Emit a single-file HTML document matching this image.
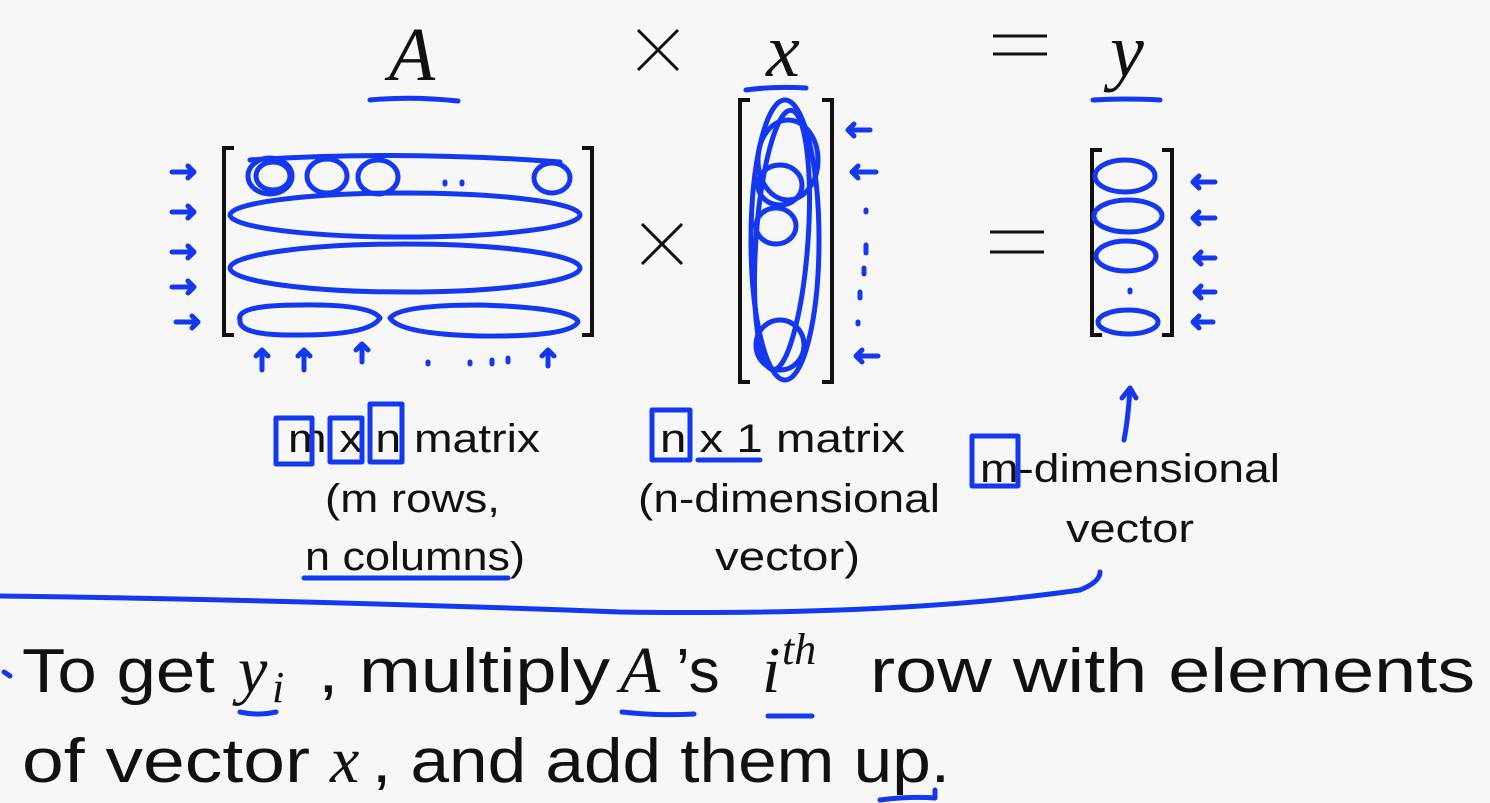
<!DOCTYPE html>
<html><head><meta charset="utf-8"><style>
html,body{margin:0;padding:0;background:#f7f7f7;}
svg{display:block;}
.t{font-family:"Liberation Sans",sans-serif;fill:#111;}
.m{font-family:"Liberation Serif",serif;font-style:italic;fill:#111;}
.o{font-family:"DejaVu Sans",sans-serif;fill:#111;font-weight:200;}
.b{fill:none;stroke:#1437f0;stroke-width:5;stroke-linecap:round;stroke-linejoin:round;}
.k{fill:none;stroke:#111;stroke-width:4;}
</style></head><body>
<svg width="1490" height="803" viewBox="0 0 1490 803">
<rect width="1490" height="803" fill="#f7f7f7"/>
<text class="m" x="412" y="80" font-size="76" text-anchor="middle">A</text>
<path d="M638 30 L678 70 M678 30 L638 70" stroke="#111" stroke-width="3"/>
<text class="m" x="783" y="76" font-size="76" text-anchor="middle">x</text>
<path d="M993 36 H1047 M993 54 H1047" stroke="#111" stroke-width="3"/>
<text class="m" x="1127" y="76" font-size="76" text-anchor="middle">y</text>
<path class="b" d="M370 100 Q412 96 458 101"/>
<path class="b" d="M746 90 Q775 86 806 88"/>
<path class="b" d="M1093 100 Q1125 98 1160 100"/>
<path class="k" d="M234 148 H224 V335 H234 M582 148 H592 V335 H582"/>
<path class="k" d="M750 100 H740 V382 H750 M822 100 H832 V382 H822"/>
<path class="k" d="M1102 150 H1092 V335 H1102 M1162 150 H1172 V335 H1162"/>
<path d="M642 224 L682 264 M682 224 L642 264" stroke="#111" stroke-width="3"/>
<path d="M990 232 H1044 M990 252 H1044" stroke="#111" stroke-width="3"/>
<g>
<ellipse class="b" cx="270" cy="176" rx="22" ry="18"/><ellipse class="b" cx="273" cy="176" rx="17" ry="14"/>
<ellipse class="b" cx="327" cy="176" rx="20" ry="17"/><ellipse class="b" cx="378" cy="177" rx="20" ry="17"/>
<ellipse class="b" cx="552" cy="178" rx="18" ry="15"/>
<path class="b" d="M445 182 v2 M462 182 v2 M250 160 Q400 150 560 162"/>
<ellipse class="b" cx="405" cy="215" rx="175" ry="22"/>
<ellipse class="b" cx="405" cy="268" rx="175" ry="24"/>
<path class="b" d="M240 320 Q235 305 300 305 Q370 304 380 318 Q370 335 300 335 Q238 336 240 320 M390 318 Q400 305 480 305 Q575 308 578 322 Q570 337 480 336 Q400 334 390 318"/>
<path class="b" d="M172 172 h22 m-6 -6 l6 6 l-6 6 M172 212 h22 m-6 -6 l6 6 l-6 6 M172 252 h22 m-6 -6 l6 6 l-6 6 M172 287 h22 m-6 -6 l6 6 l-6 6 M176 322 h22 m-6 -6 l6 6 l-6 6"/>
<path class="b" d="M262 370 v-20 m-6 6 l6 -6 l6 6 M304 370 v-20 m-6 6 l6 -6 l6 6 M362 362 v-18 m-6 6 l6 -6 l6 6 M548 366 v-16 m-6 6 l6 -6 l6 6 M428 362 v2 M470 362 v2 M492 360 v4 M508 358 v4"/>
</g>
<g>
<ellipse class="b" cx="785" cy="240" rx="34" ry="140"/>
<ellipse class="b" cx="782" cy="240" rx="26" ry="130" transform="rotate(4 782 240)"/>
<ellipse class="b" cx="788" cy="160" rx="30" ry="40"/><ellipse class="b" cx="780" cy="185" rx="22" ry="20"/>
<ellipse class="b" cx="776" cy="226" rx="20" ry="18"/><ellipse class="b" cx="780" cy="345" rx="24" ry="25"/>
<path class="b" d="M870 130 h-22 m6 -6 l-6 6 l6 6 M876 172 h-24 m6 -6 l-6 6 l6 6 M878 356 h-22 m6 -6 l-6 6 l6 6 M866 210 v2 M866 245 v8 M864 268 v6 M860 292 v6 M858 322 v2"/>
</g>
<g>
<ellipse class="b" cx="1125" cy="176" rx="30" ry="16"/><ellipse class="b" cx="1128" cy="216" rx="34" ry="16"/>
<ellipse class="b" cx="1126" cy="256" rx="30" ry="15"/><ellipse class="b" cx="1128" cy="322" rx="30" ry="12"/>
<path class="b" d="M1130 290 v2 M1215 182 h-22 m6 -6 l-6 6 l6 6 M1215 218 h-22 m6 -6 l-6 6 l6 6 M1215 258 h-20 m6 -6 l-6 6 l6 6 M1215 292 h-20 m6 -6 l-6 6 l6 6 M1213 322 h-20 m6 -6 l-6 6 l6 6"/>
<path class="b" d="M1124 440 Q1128 420 1130 388 m-8 10 l8 -10 l6 10"/>
</g>
<g class="t" font-size="40">
<text x="288" y="452" textLength="252" lengthAdjust="spacingAndGlyphs">m x n matrix</text>
<text x="325" y="512" textLength="175" lengthAdjust="spacingAndGlyphs">(m rows,</text>
<text x="305" y="570" textLength="220" lengthAdjust="spacingAndGlyphs">n columns)</text>
<text x="660" y="452" textLength="245" lengthAdjust="spacingAndGlyphs">n x 1 matrix</text>
<text x="638" y="512" textLength="302" lengthAdjust="spacingAndGlyphs">(n-dimensional</text>
<text x="715" y="570" textLength="145" lengthAdjust="spacingAndGlyphs">vector)</text>
<text x="980" y="482" textLength="300" lengthAdjust="spacingAndGlyphs">m-dimensional</text>
<text x="1066" y="542" textLength="128" lengthAdjust="spacingAndGlyphs">vector</text>
</g>
<g>
<path class="b" d="M276 418 h36 v46 h-36 z M330 418 h32 v44 h-32 z M370 404 h32 v58 h-32 z M652 410 h38 v50 h-38 z M698 460 h62 M972 436 h46 v50 h-46 z M304 578 h204"/>
<path class="b" d="M0 596 Q300 600 620 612 Q900 616 1080 590 Q1100 582 1100 572"/>
</g>
<g>
<path class="b" d="M4 672 l6 4" />
<text class="t" x="22" y="692" font-size="62" textLength="193" lengthAdjust="spacingAndGlyphs">To get</text>
<text class="m" x="238" y="692" font-size="66">y</text><text class="m" x="272" y="702" font-size="44">i</text>
<text class="t" x="318" y="692" font-size="62" textLength="292" lengthAdjust="spacingAndGlyphs">, multiply</text>
<text class="m" x="620" y="692" font-size="66">A</text>
<text class="t" x="676" y="692" font-size="62">’s</text>
<text class="m" x="762" y="692" font-size="66">i</text>
<text class="m" x="782" y="664" font-size="44">th</text>
<text class="t" x="870" y="692" font-size="62" textLength="605" lengthAdjust="spacingAndGlyphs">row with elements</text>
<text class="t" x="22" y="782" font-size="62" textLength="288" lengthAdjust="spacingAndGlyphs">of vector</text>
<text class="m" x="330" y="782" font-size="66">x</text>
<text class="t" x="372" y="782" font-size="62" textLength="578" lengthAdjust="spacingAndGlyphs">, and add them up.</text>
<path class="b" d="M240 712 Q258 716 276 712 M622 712 Q660 716 694 714 M768 716 h44 M880 800 Q910 796 935 798 v-8"/>
</g>
</svg>
</body></html>
